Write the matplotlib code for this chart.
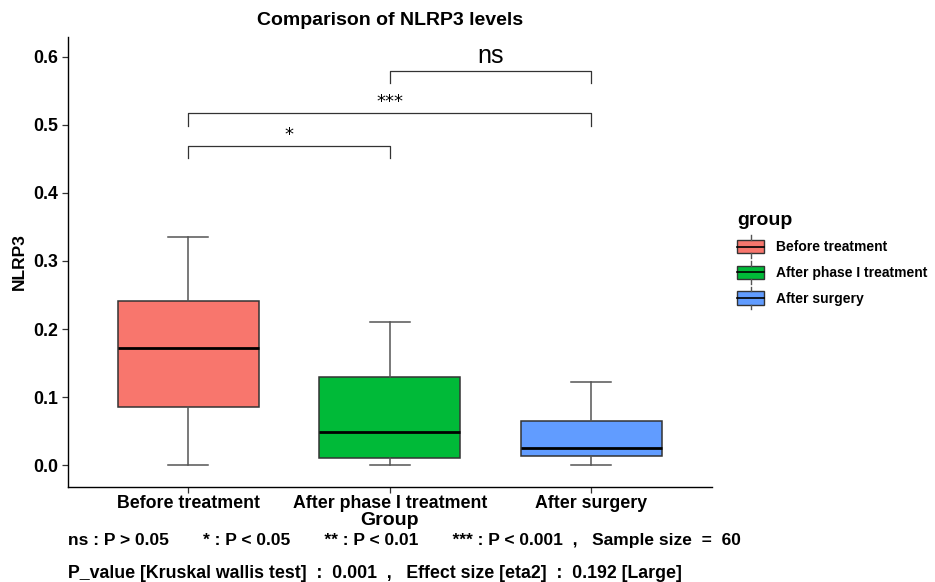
import matplotlib.pyplot as plt
from matplotlib.legend_handler import HandlerBase
from matplotlib.patches import Rectangle
from matplotlib.lines import Line2D

groups = ['Before treatment', 'After phase I treatment', 'After surgery']
colors = ['#F8766D', '#00BA38', '#619CFF']
whislo = [0.0, 0.0, 0.0]
q1 = [0.085, 0.010, 0.013]
med = [0.172, 0.049, 0.026]
q3 = [0.241, 0.129, 0.065]
whishi = [0.335, 0.210, 0.122]

# pairwise comparisons: (group a, group b, bracket height, label)
comparisons = [(0, 1, 0.469, '*'), (0, 2, 0.517, '***'), (1, 2, 0.579, 'ns')]

plt.rcParams['font.family'] = ['Liberation Sans', 'DejaVu Sans']

fig = plt.figure(figsize=(9.35, 5.82), dpi=100)
ax = fig.add_axes([0.0722, 0.1632, 0.6893, 0.7732])

stats = []
for i, g in enumerate(groups):
    stats.append(dict(label=g, whislo=whislo[i], q1=q1[i], med=med[i],
                      q3=q3[i], whishi=whishi[i], fliers=[]))

pos = [1, 2, 3]
bp = ax.bxp(stats, positions=pos, widths=0.7, capwidths=0.2, patch_artist=True,
            showfliers=False,
            boxprops=dict(edgecolor='#333333', linewidth=1.1),
            whiskerprops=dict(color='#555555', linewidth=1.1),
            capprops=dict(color='#555555', linewidth=1.1),
            medianprops=dict(color='black', linewidth=2.0))
for patch, c in zip(bp['boxes'], colors):
    patch.set_facecolor(c)

# significance brackets
drop = 0.018
for a, b, h, lab in comparisons:
    xa, xb = pos[a], pos[b]
    ax.plot([xa, xa, xb, xb], [h - drop, h, h, h - drop], color='#333333', lw=0.9)
    if lab == 'ns':
        ax.text((xa + xb) / 2, h + 0.004, lab, ha='center', va='bottom', fontsize=18)
    else:
        ax.text((xa + xb) / 2, h + 0.003, lab, ha='center', va='bottom', fontsize=13,
                family='DejaVu Sans')

ax.set_xlim(0.4, 3.6)
ax.set_ylim(-0.032, 0.629)
ax.set_yticks([0.0, 0.1, 0.2, 0.3, 0.4, 0.5, 0.6])
ax.set_yticklabels(['0.0', '0.1', '0.2', '0.3', '0.4', '0.5', '0.6'])
ax.set_xticks(pos)
ax.set_xticklabels(groups)
for lbl in ax.get_xticklabels() + ax.get_yticklabels():
    lbl.set_fontweight('bold')
    lbl.set_fontsize(12.8)
ax.tick_params(length=4, width=0.9, color='#333333', labelcolor='black', pad=3)
ax.tick_params(axis='x', pad=1.5)
ax.spines['top'].set_visible(False)
ax.spines['right'].set_visible(False)
for s in ['left', 'bottom']:
    ax.spines[s].set_linewidth(1.0)

ax.set_xlabel('Group', fontweight='bold', fontsize=14, labelpad=0)
ax.set_ylabel('NLRP3', fontweight='bold', fontsize=12.5, labelpad=4)
ax.set_title('Comparison of NLRP3 levels', fontweight='bold', fontsize=14, pad=9)


class BoxHandler(HandlerBase):
    def __init__(self, color):
        super().__init__()
        self.color = color

    def create_artists(self, legend, orig_handle, xdescent, ydescent, width, height, fontsize, trans):
        w = width
        x0 = -xdescent
        h = height * 1.8
        y0 = -ydescent + height / 2 - h / 2
        cx = x0 + w / 2
        rect = Rectangle((x0, y0 + h * 0.2), w, h * 0.6, facecolor=self.color,
                         edgecolor='#333333', lw=1.0, transform=trans)
        medl = Line2D([x0, x0 + w], [y0 + h / 2] * 2, color='black', lw=1.2, transform=trans)
        wl = Line2D([cx, cx], [y0, y0 + h * 0.2], color='#555555', lw=1.0, transform=trans)
        wh = Line2D([cx, cx], [y0 + h * 0.8, y0 + h], color='#555555', lw=1.0, transform=trans)
        return [rect, medl, wl, wh]


handles = bp['boxes']
leg = ax.legend(handles, groups, handler_map={h: BoxHandler(c) for h, c in zip(handles, colors)},
                loc='upper left', bbox_to_anchor=(1.02, 0.64), frameon=False,
                title='group', handlelength=1.95, handleheight=1.0, labelspacing=0.85,
                handletextpad=0.8, prop={'weight': 'bold', 'size': 10.0})
leg.get_title().set_fontweight('bold')
leg.get_title().set_fontsize(14)
leg._legend_box.align = 'left'

cap = ['Liberation Sans Narrow', 'Liberation Sans', 'DejaVu Sans']
fig.text(0.0722, 1 - 540 / 582,
         'ns : P > 0.05       * : P < 0.05       ** : P < 0.01       *** : P < 0.001  ,   Sample size  =  60',
         fontweight='bold', fontsize=12.5, family=cap, va='center')
fig.text(0.0722, 1 - 573 / 582,
         'P_value [Kruskal wallis test]  :  0.001  ,   Effect size [eta2]  :  0.192 [Large]',
         fontweight='bold', fontsize=12.8, family=cap, va='center')

fig.savefig('out.png', dpi=100)
